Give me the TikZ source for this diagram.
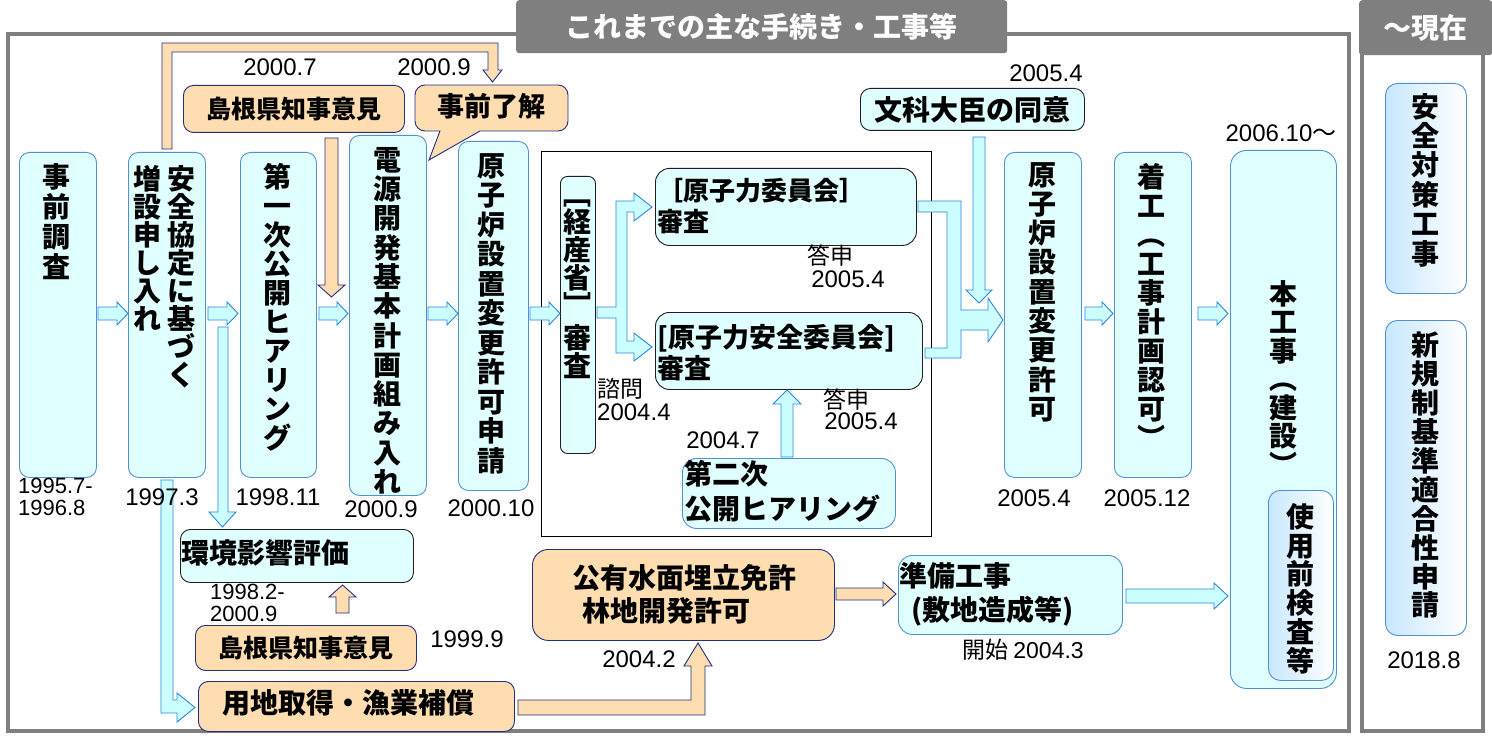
\documentclass[tikz,border=0pt]{standalone}
\usepackage{fontspec}
\setmainfont{Noto Sans CJK JP}
\newfontfamily\lat{Liberation Sans}
\definecolor{cyanfill}{RGB}{224,255,255}
\definecolor{arrowfill}{RGB}{204,255,255}
\definecolor{boxblue}{RGB}{80,145,210}
\definecolor{arrowblue}{RGB}{40,135,220}
\definecolor{orangefill}{RGB}{254,222,176}
\definecolor{navy}{RGB}{35,45,130}
\definecolor{darkline}{RGB}{30,30,30}
\definecolor{tabgray}{RGB}{127,127,127}
\definecolor{gradblue}{RGB}{200,232,255}
\begin{document}
\begin{tikzpicture}[x=1pt,y=-1pt,
  cbox/.style={draw=boxblue, fill=cyanfill, rounded corners=10pt, line width=0.9pt, inner sep=0pt, anchor=north west},
  kbox/.style={cbox, draw=darkline},
  obox/.style={draw=navy, fill=orangefill, rounded corners=10pt, line width=0.9pt, inner sep=0pt, anchor=north west},
  gbox/.style={draw=boxblue, left color=gradblue, right color=white, rounded corners=12pt, line width=0.9pt, inner sep=0pt, anchor=north west},
  vtext/.style={font=\bfseries\fontsize{28}{#1}\selectfont, align=center, inner sep=0pt, anchor=north},
  vtext/.default=29.5,
  htext/.style={font=\bfseries\fontsize{#1}{31}\selectfont, inner sep=0pt},
  htext/.default=28,
  datel/.style={font=\lat\fontsize{24}{19}\selectfont, inner sep=0pt, align=left},
  sdatel/.style={font=\lat\fontsize{22}{19}\selectfont, inner sep=0pt, anchor=west},
  jlabel/.style={font=\fontsize{23}{23}\selectfont, inner sep=0pt},
  carrow/.style={draw=arrowblue, fill=arrowfill, line width=0.9pt, line join=miter},
  oarrow/.style={draw=navy, fill=orangefill, line width=0.9pt, line join=miter},
  tab/.style={fill=tabgray, rounded corners=3pt, anchor=north west, inner sep=0pt, text=white, font=\bfseries\fontsize{28}{28}\selectfont}
]
\useasboundingbox (0,0) rectangle (1492,741);
\fill[white] (0,0) rectangle (1492,741);

% ---------- frames and tabs ----------
\draw[line width=4pt, draw=tabgray] (8,34) rectangle (1349,731);
\draw[line width=4pt, draw=tabgray] (1362,40) rectangle (1483,731);
\node[tab, minimum width=491, minimum height=53] (title) at (516,0) {これまでの主な手続き・工事等};
\node[tab, minimum width=133, minimum height=55] (now) at (1359,0) {～現在};

% middle frame
\node[draw=black, line width=0.8pt, minimum width=390, minimum height=385, inner sep=0pt, anchor=north west] (mid) at (541,151) {};

% ---------- main vertical boxes ----------
\node[cbox, minimum width=77, minimum height=325] (jizen) at (19,152) {};
\node[vtext=30] (jizent) at (56,163) {事\\前\\調\\査};

\node[cbox, minimum width=77, minimum height=325] (kyotei) at (128,152) {};
\node[vtext=28] (kyoteia) at (181,165) {安\\全\\協\\定\\に\\基\\づ\\く};
\node[vtext=28] (kyoteib) at (147,165) {増\\設\\申\\し\\入\\れ};

\node[cbox, minimum width=76, minimum height=325] (hear1) at (240,152) {};
\node[vtext=29] (hear1t) at (277,163) {第\\一\\次\\公\\開\\ヒ\\ア\\リ\\ン\\グ};

\node[cbox, minimum width=77, minimum height=360] (dengen) at (349,135) {};
\node[vtext=29.3] (dengent) at (387,147) {電\\源\\開\\発\\基\\本\\計\\画\\組\\み\\入\\れ};

\node[cbox, minimum width=70, minimum height=349] (shinsei) at (458,141) {};
\node[vtext=29.5] (shinseit) at (491,153) {原\\子\\炉\\設\\置\\変\\更\\許\\可\\申\\請};

\node[kbox, minimum width=35, minimum height=277, rounded corners=7pt] (keisan) at (560,176) {};
\node[vtext=28] (keisant) at (577,200) {﹇\\経\\産\\省\\﹈\\[4pt]審\\査};

\node[cbox, minimum width=77, minimum height=325] (kyoka) at (1004,152) {};
\node[vtext=29.3] (kyokat) at (1042,162) {原\\子\\炉\\設\\置\\変\\更\\許\\可};

\node[cbox, minimum width=77, minimum height=325] (chakko) at (1114,152) {};
\node[vtext=29] (chakkot) at (1151,163) {着\\工\\︵\\工\\事\\計\\画\\認\\可\\︶};

\node[cbox, minimum width=106, minimum height=538, rounded corners=16pt] (honkoji) at (1230,150) {};
\node[vtext=28.5] (honkojit) at (1283,280) {本\\工\\事\\︵\\建\\設\\︶};
\node[gbox, minimum width=65, minimum height=190] (shiyo) at (1268,490) {};
\node[vtext=28.8] (shiyot) at (1300,503) {使\\用\\前\\検\\査\\等};

% right column
\node[gbox, minimum width=81, minimum height=210] (anzen) at (1385,83) {};
\node[vtext=29.4] (anzent) at (1425,93) {安\\全\\対\\策\\工\\事};
\node[gbox, minimum width=81, minimum height=315] (shinkisei) at (1385,320) {};
\node[vtext=28.9] (shinkiseit) at (1425,332) {新\\規\\制\\基\\準\\適\\合\\性\\申\\請};
\node[datel] (d2018) at (1424,660) {2018.8};

% ---------- horizontal boxes ----------
\node[obox, minimum width=221, minimum height=47] (chiji1) at (183,85) {};
\node[htext=25] at (chiji1.center) {島根県知事意見};

\draw[obox] (480,131) [rounded corners=10pt] -- (568,131) -- (568,85) -- (415,85) -- (415,131) [sharp corners] -- (440,131) -- (429,160) -- cycle;
\node[htext=27] (ryokai) at (491,106) {事前了解};

\node[kbox, minimum width=224, minimum height=42] (monka) at (860,88) {};
\node[htext=28] at (monka.center) {文科大臣の同意};

\node[kbox, minimum width=261, minimum height=77, rounded corners=14pt] (genshi) at (655,168) {};
\node[font=\bfseries\fontsize{26}{31}\selectfont, align=left, inner sep=0pt, anchor=west] at (657,206) {［原子力委員会］\\審査};

\node[kbox, minimum width=267, minimum height=77, rounded corners=14pt] (anzeni) at (655,312) {};
\node[font=\bfseries\fontsize{27}{31}\selectfont, align=left, inner sep=0pt, anchor=west] at (657,353) {[原子力安全委員会]\\審査};

\node[cbox, minimum width=213, minimum height=70, rounded corners=14pt] (hear2) at (682,458) {};
\node[font=\bfseries\fontsize{28}{35}\selectfont, align=left, inner sep=0pt, anchor=west] at (684,491) {第二次\\公開ヒアリング};

\node[kbox, minimum width=233, minimum height=53] (kankyo) at (180,529) {};
\node[htext=28, anchor=west] at (181,553) {環境影響評価};

\node[obox, minimum width=221, minimum height=45] (chiji2) at (195,625) {};
\node[htext=25] at (chiji2.center) {島根県知事意見};

\node[obox, minimum width=316, minimum height=50] (yochi) at (198,681) {};
\node[htext=28] at (348,703) {用地取得・漁業補償};

\node[obox, minimum width=302, minimum height=91, rounded corners=16pt] (koyu) at (532,549) {};
\node[font=\bfseries\fontsize{28}{33}\selectfont, align=left, inner sep=0pt, anchor=west] at (572,594) {公有水面埋立免許\\\hspace{10pt}林地開発許可};

\node[cbox, minimum width=224, minimum height=79, rounded corners=14pt] (junbi) at (898,555) {};
\node[font=\bfseries\fontsize{28}{34}\selectfont, align=left, inner sep=0pt, anchor=west] at (899,594) {準備工事\\\hspace{12pt}(敷地造成等)};

% ---------- block arrows (right pointing, between main boxes) ----------
\foreach \a/\b in {98/128, 208/238, 319/348, 428/458, 530/560, 1085/1113, 1198/1228} {
  \draw[carrow] (\a,307) -- (\b-11,307) -- (\b-11,302) -- (\b,313.5) -- (\b-11,325) -- (\b-11,320) -- (\a,320) -- cycle;
}

% down arrow to environment assessment
\draw[carrow] (218,327) -- (218,512) -- (209,512) -- (222.5,527) -- (236,512) -- (228,512) -- (228,327) -- cycle;

% long arrow from kyotei to land acquisition
\draw[carrow] (161,480) -- (161,713) -- (177,713) -- (177,722) -- (195,707.5) -- (177,693) -- (177,700) -- (173,700) -- (173,480) -- cycle;

% fork from METI review
\draw[carrow] (597,307) -- (616,307) -- (616,201) -- (634,201) -- (634,193) -- (652,207) -- (634,221) -- (634,212) -- (627,212) -- (627,341) -- (634,341) -- (634,333) -- (652,347) -- (634,361) -- (634,353) -- (616,353) -- (616,318) -- (597,318) -- cycle;

% merge arrow to permission
\draw[carrow] (918,201) -- (961,201) -- (961,310) -- (988,310) -- (988,298) -- (1003,320) -- (988,342) -- (988,330) -- (961,330) -- (961,358) -- (925,358) -- (925,348) -- (947,348) -- (947,212) -- (918,212) -- cycle;

% down arrow from MEXT consent
\draw[carrow] (973,137) -- (973,290) -- (966,290) -- (979,303) -- (992,290) -- (985,290) -- (985,137) -- cycle;

% up arrow from second hearing
\draw[carrow] (781,457) -- (781,404) -- (773,404) -- (787,390) -- (801,404) -- (793,404) -- (793,457) -- cycle;

% preparation -> main construction
\draw[carrow] (1126,589) -- (1214,589) -- (1214,583) -- (1228,596) -- (1214,609) -- (1214,603) -- (1126,603) -- cycle;

% ---------- orange arrows ----------
\draw[oarrow] (162,149) -- (162,43) -- (498,43) -- (498,70) -- (502,70) -- (492.5,82) -- (483,70) -- (488,70) -- (488,52) -- (172,52) -- (172,149) -- cycle;
\draw[oarrow] (325,138) -- (325,285) -- (318,285) -- (331.5,297) -- (345,285) -- (338,285) -- (338,138) -- cycle;
\draw[oarrow] (336,613) -- (336,597) -- (329,597) -- (342.5,585) -- (356,597) -- (349,597) -- (349,613) -- cycle;
\draw[oarrow] (518,700) -- (691,700) -- (691,666) -- (684,666) -- (698,643) -- (712,666) -- (705,666) -- (705,715) -- (518,715) -- cycle;
\draw[oarrow] (836,588) -- (883,588) -- (883,582) -- (896,594) -- (883,606) -- (883,600) -- (836,600) -- cycle;

% ---------- date labels ----------
\node[datel] (d20007) at (280,67) {2000.7};
\node[datel] (d20009a) at (434,67) {2000.9};
\node[datel] (d20054a) at (1046,73) {2005.4};
\node[inner sep=0pt, font=\fontsize{24}{24}\selectfont] (d200610) at (1281,133) {{\lat 2006.10}～};
\node[sdatel] (d1995a) at (18,486) {1995.7-};
\node[sdatel] (d1995b) at (18,508) {1996.8};
\node[datel] (d19973) at (162,497) {1997.3};
\node[datel] (d199811) at (278,497) {1998.11};
\node[datel] (d20009b) at (381,509) {2000.9};
\node[datel] (d200010) at (491,508) {2000.10};
\node[datel] (d20054b) at (1034,498) {2005.4};
\node[datel] (d200512) at (1147,498) {2005.12};
\node[sdatel] (d1998a) at (210,592) {1998.2-};
\node[sdatel] (d1998b) at (210,614) {2000.9};
\node[datel] (d19999) at (467,639) {1999.9};
\node[datel] (d20042) at (639,659) {2004.2};
\node[datel] (d20047) at (723,440) {2004.7};

\node[jlabel] (toshin1) at (830,256) {答申};
\node[datel] (d20054c) at (848,279) {2005.4};
\node[jlabel] (toshin2) at (846,400) {答申};
\node[datel] (d20054d) at (861,421) {2005.4};
\node[jlabel, anchor=west] (shimon) at (597,389) {諮問};
\node[datel, anchor=west] (d20044) at (597,412) {2004.4};
\node[inner sep=0pt, font=\fontsize{23}{23}\selectfont] (kaishi) at (1023,650) {開始 {\lat 2004.3}};
\end{tikzpicture}
\end{document}
